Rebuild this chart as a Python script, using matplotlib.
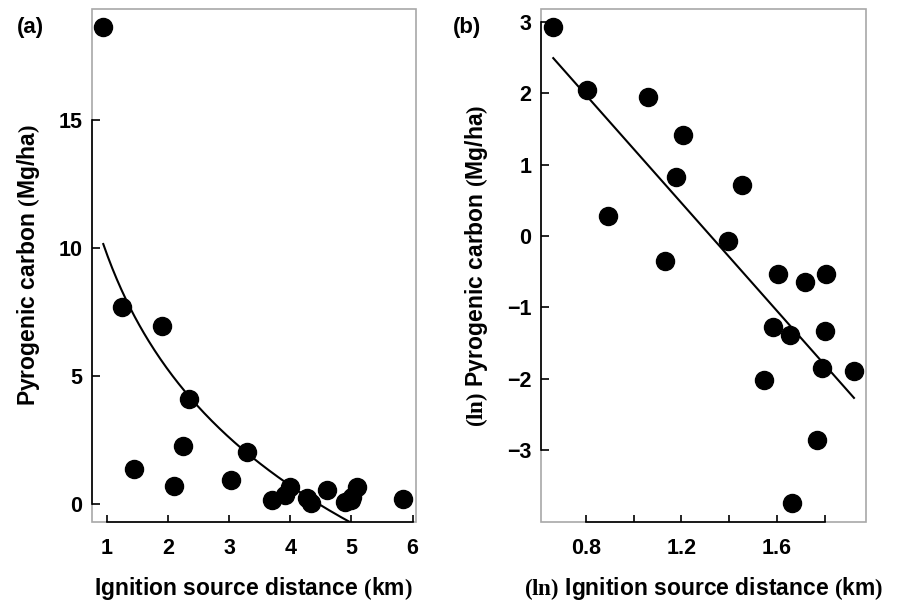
import numpy as np
import matplotlib
matplotlib.use('Agg')
import matplotlib.pyplot as plt
from matplotlib.patches import Rectangle

plt.rcParams['font.family'] = 'Liberation Sans'
plt.rcParams['font.weight'] = 'bold'
plt.rcParams['axes.unicode_minus'] = True
plt.rcParams['mathtext.fontset'] = 'custom'
plt.rcParams['mathtext.rm'] = 'Liberation Serif'

# panel (a): distance (km) vs pyrogenic carbon (Mg/ha)
dist_a = [0.945, 1.245, 1.90, 2.345, 2.24, 1.446, 2.10, 3.30, 3.04, 3.696,
          3.913, 3.995, 4.268, 4.333, 4.595, 4.894, 5.003, 5.095, 5.846, 4.99]
carb_a = [18.64, 7.68, 6.97, 4.09, 2.28, 1.35, 0.72, 2.04, 0.95, 0.16,
          0.35, 0.68, 0.22, 0.05, 0.55, 0.09, 0.29, 0.65, 0.18, 0.16]

# panel (b): ln distance vs ln carbon
dist_b = [0.664, 0.807, 1.062, 1.208, 1.177, 1.455, 0.895, 1.132, 1.395, 1.606,
          1.72, 1.804, 1.585, 1.654, 1.80, 1.79, 1.923, 1.546, 1.769, 1.664]
carb_b = [2.935, 2.04, 1.94, 1.417, 0.823, 0.715, 0.28, -0.346, -0.065, -0.533,
          -0.64, -0.533, -1.28, -1.389, -1.332, -1.847, -1.90, -2.02, -2.86, -3.74]

xticks_a = [1, 2, 3, 4, 5, 6]
yticks_a = [0, 5, 10, 15]
xticks_b = [0.8, 1.0, 1.2, 1.4, 1.6, 1.8]
xlabels_b = ['0.8', '', '1.2', '', '1.6', '']
yticks_b = [-3, -2, -1, 0, 1, 2, 3]

fig = plt.figure(figsize=(8.98, 6.02), dpi=100)
axa = fig.add_axes([0.1024, 0.1334, 0.3605, 0.8516])
axb = fig.add_axes([0.6028, 0.1334, 0.3612, 0.8516])


def style(ax, xb, yb):
    for s in ['top', 'right']:
        ax.spines[s].set_visible(False)
    for s in ['left', 'bottom']:
        ax.spines[s].set_linewidth(1.2)
        ax.spines[s].set_color('black')
    ax.spines['left'].set_bounds(*yb)
    ax.spines['bottom'].set_bounds(*xb)
    ax.add_patch(Rectangle((0, 0), 1, 1, transform=ax.transAxes, fill=False,
                           edgecolor='#a8a8a8', lw=1.2, zorder=0.5, clip_on=False))
    ax.tick_params(axis='both', direction='in', width=1.2, labelsize=15.5)
    ax.tick_params(axis='y', length=6, pad=7)
    ax.tick_params(axis='x', length=5, pad=12)


# (a)
xs = np.linspace(min(dist_a), max(dist_a), 200)
coef = np.polyfit(np.log(dist_a), carb_a, 1)
axa.plot(xs, np.polyval(coef, np.log(xs)), color='black', lw=1.5, zorder=2)
axa.plot(dist_a, carb_a, 'o', color='black', ms=13, zorder=3, clip_on=False)
axa.set_xlim(0.76, 6.05)
axa.set_ylim(-0.69, 19.34)
axa.set_xticks(xticks_a)
axa.set_yticks(yticks_a)
style(axa, (1, 6), (0, 15))
axa.set_xlabel(r'Ignition source distance $\mathrm{(}$km$\mathrm{)}$', fontsize=16.5,
               fontweight='bold', labelpad=11)
axa.set_ylabel(r'Pyrogenic carbon $\mathrm{(}$Mg/ha$\mathrm{)}$', fontsize=16.5,
               fontweight='bold', labelpad=12)
fig.text(0.019, 0.955, '(a)', fontsize=16, fontweight='bold', va='center')

# (b)
coef_b = np.polyfit(dist_b, carb_b, 1)
xb = np.array([min(dist_b), max(dist_b)])
axb.plot(xb, np.polyval(coef_b, xb), color='black', lw=1.5, zorder=2)
axb.plot(dist_b, carb_b, 'o', color='black', ms=13, zorder=3, clip_on=False)
axb.set_xlim(0.614, 1.972)
axb.set_ylim(-4.007, 3.18)
axb.set_xticks(xticks_b)
axb.set_xticklabels(xlabels_b)
axb.set_yticks(yticks_b)
style(axb, (0.8, 1.8), (-3, 3))
axb.set_xlabel(r'$\mathrm{(ln)}$ Ignition source distance $\mathrm{(}$km$\mathrm{)}$',
               fontsize=16.5, fontweight='bold', labelpad=11)
axb.set_ylabel(r'$\mathrm{(ln)}$ Pyrogenic carbon $\mathrm{(}$Mg/ha$\mathrm{)}$',
               fontsize=16.5, fontweight='bold', labelpad=12)
fig.text(0.504, 0.955, '(b)', fontsize=16, fontweight='bold', va='center')

fig.savefig('out.png', dpi=100)
